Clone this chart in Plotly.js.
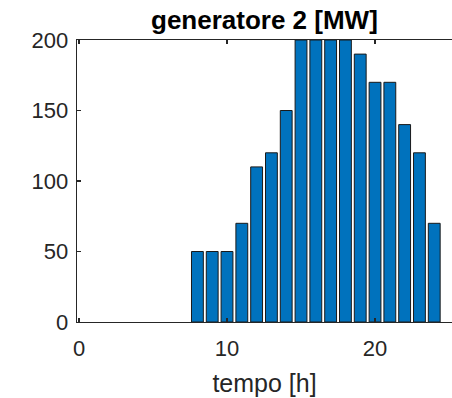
<!DOCTYPE html>
<html>
<head>
<meta charset="utf-8">
<script src="https://cdn.plot.ly/plotly-3.0.1.min.js"></script>
<style>html,body{margin:0;padding:0;background:#fff;}#chart{width:452px;height:398px;}</style>
</head>
<body>
<div id="chart"></div>
<script>
var hours = [1,2,3,4,5,6,7,8,9,10,11,12,13,14,15,16,17,18,19,20,21,22,23,24];
var power = [0,0,0,0,0,0,0,50,50,50,70,110,120,150,200,200,200,200,190,170,170,140,120,70];
var xTicks = [0,10,20];
var yTicks = [0,50,100,150,200];

var trace = {
  type: 'bar',
  x: hours,
  y: power,
  width: 0.8,
  marker: {color: '#0072BD', line: {color: '#1a1a1a', width: power.map(function(v){return v > 0 ? 1 : 0;})}},
  hoverinfo: 'none'
};

var fontFam = '"Liberation Sans", Arial, sans-serif';
var layout = {
  width: 452, height: 398,
  margin: {l: 77, r: 0, t: 40, b: 76},
  paper_bgcolor: '#ffffff', plot_bgcolor: '#ffffff',
  showlegend: false,
  bargap: 0,
  title: {text: '<b>generatore 2 [MW]</b>', font: {family: fontFam, size: 26, color: '#000000'},
          x: 0.585, xanchor: 'center', y: 0.95, yanchor: 'middle', yref: 'container'},
  xaxis: {
    range: [-0.135, 25.2],
    tickvals: xTicks, ticktext: xTicks.map(String),
    ticks: 'inside', ticklen: 4, tickwidth: 1.3, tickcolor: '#262626',
    showline: true, linecolor: '#262626', linewidth: 1.3, mirror: 'ticks',
    showgrid: false, zeroline: false,
    ticklabelstandoff: 6,
    tickfont: {family: fontFam, size: 22, color: '#262626'},
    title: {text: 'tempo [h]', font: {family: fontFam, size: 25, color: '#262626'}, standoff: 14}
  },
  yaxis: {
    range: [0, 200],
    tickvals: yTicks, ticktext: yTicks.map(String),
    ticks: 'inside', ticklen: 4, tickwidth: 1.3, tickcolor: '#262626',
    showline: true, linecolor: '#262626', linewidth: 1.3, mirror: false,
    showgrid: false, zeroline: false,
    ticklabelstandoff: 3,
    tickfont: {family: fontFam, size: 22, color: '#262626'}
  }
};

Plotly.newPlot('chart', [trace], layout, {staticPlot: true, displayModeBar: false});
</script>
</body>
</html>
